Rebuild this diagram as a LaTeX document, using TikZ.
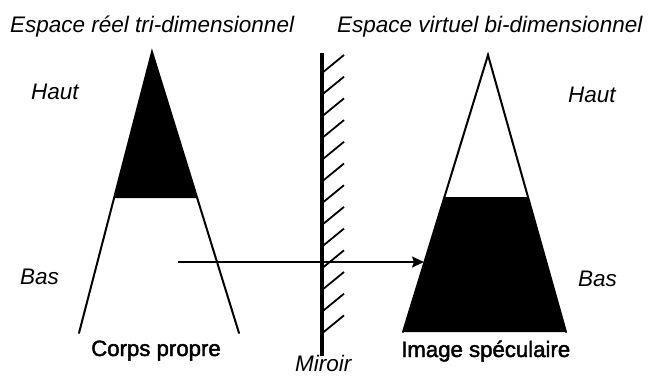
\documentclass[tikz,border=0pt]{standalone}
\usepackage{fontspec}
\setmainfont{Liberation Sans}
\newfontfamily\capfont{Liberation Sans}[FakeBold=2]
\usetikzlibrary{arrows.meta}
\begin{document}
\begin{tikzpicture}[x=1pt,y=-1pt,
  lbl/.style={font=\fontsize{22.5}{26}\selectfont\itshape, inner sep=0pt, anchor=base west},
  caption/.style={font=\capfont\fontsize{22.2}{26}\selectfont, inner sep=0pt, anchor=base west},
  leg/.style={line width=2pt, line cap=round},
  hatch/.style={line width=1.8pt},
  mirrorline/.style={line width=4pt}]
\useasboundingbox (0,0) rectangle (649,376);
% left body
\coordinate (LA) at (152,52);
\coordinate (LL) at (79,333);
\coordinate (LR) at (239,333);
\coordinate (LsL) at (114.5,198);
\coordinate (LsR) at (196.8,198);
\fill[black] (LA) -- (LsL) -- (LsR) -- cycle;
\draw[leg] (LL) -- (LA) -- (LR);
% right image
\coordinate (RA) at (488,55);
\coordinate (RL) at (403,332);
\coordinate (RR) at (566,332);
\coordinate (RsL) at (444.4,198);
\coordinate (RsR) at (527.6,198);
\fill[black] (RsL) -- (RsR) -- (RR) -- (RL) -- cycle;
\draw[leg,line join=miter] (RL) -- (RA) -- (RR);
\draw[line width=1.6pt] (RsL) -- (RsR);
% mirror
\coordinate (MT) at (322,53);
\coordinate (MB) at (322,356);
\foreach \k in {0,...,12}{
  \draw[hatch] (322,{73+21.7*\k}) -- (344,{55+21.7*\k});
}
\draw[mirrorline] (MT) -- (MB);
% arrow
\coordinate (AS) at (178,262);
\coordinate (AE) at (424,262);
\draw[line width=1.8pt,-{Stealth[length=12pt,width=11pt,inset=2pt]}] (AS) -- (AE);
% labels
\node[lbl] (t1) at (10,32) {Espace réel tri-dimensionnel};
\node[lbl] (t2) at (337,32) {Espace virtuel bi-dimensionnel};
\node[lbl] (h1) at (31,99) {Haut};
\node[lbl] (b1) at (20,284) {Bas};
\node[lbl] (h2) at (568,102) {Haut};
\node[lbl] (b2) at (578,286) {Bas};
\node[caption] (c1) at (91,356) {Corps propre};
\node[caption] (c2) at (401,357) {Image spéculaire};
\node[lbl] (mi) at (295,371) {Miroir};
\end{tikzpicture}
\end{document}
